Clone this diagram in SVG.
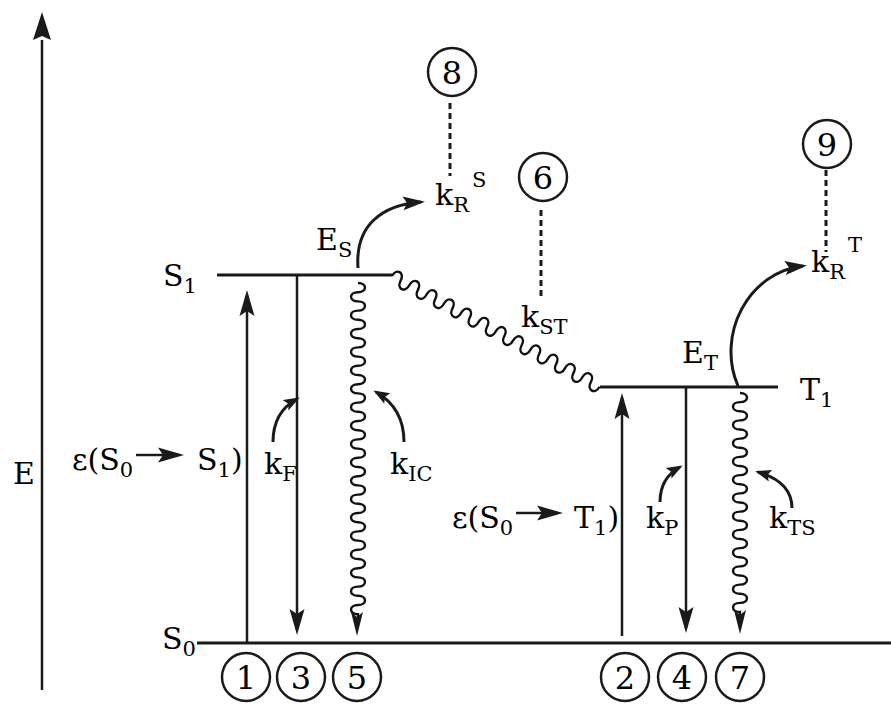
<svg xmlns="http://www.w3.org/2000/svg" xmlns:xlink="http://www.w3.org/1999/xlink" width="891" height="704" viewBox="0 0 891 704">
<style>
text{font-family:'DejaVu Serif',serif;fill:#000;}
.t{font-size:30px;}
.s{font-size:21px;}
.lvl{stroke:#1a1a1a;stroke-width:3;fill:none;}
.ln{stroke:#1a1a1a;stroke-width:2.5;fill:none;}
.wv{stroke:#111;stroke-width:2.4;fill:none;}
.cv{stroke:#1a1a1a;stroke-width:3;fill:none;}
.ds{stroke:#1a1a1a;stroke-width:3;fill:none;stroke-dasharray:6 4;}
.cir{stroke:#1a1a1a;stroke-width:2.5;fill:none;}
.hd{fill:#1a1a1a;}
.num{font-size:32px;text-anchor:middle;}
</style>
<defs>
<marker id="ah" markerUnits="userSpaceOnUse" viewBox="-22 -8 28 16" refX="0" refY="0" markerWidth="28" markerHeight="16" orient="auto" overflow="visible">
<path d="M5,0 L-21,-7.5 L-16,0 L-21,7.5 Z" class="hd"/>
</marker>
<marker id="am" markerUnits="userSpaceOnUse" viewBox="-19 -8 24 16" refX="0" refY="0" markerWidth="24" markerHeight="16" orient="auto" overflow="visible">
<path d="M4,0 L-18,-7 L-14,0 L-18,7 Z" class="hd"/>
</marker>
<marker id="as" markerUnits="userSpaceOnUse" viewBox="-14 -7 18 14" refX="0" refY="0" markerWidth="18" markerHeight="14" orient="auto" overflow="visible">
<path d="M3,0 L-13,-6 L-10,0 L-13,6 Z" class="hd"/>
</marker>
<path id="wh" d="M0,0 L-6,-24 L0,-19 L6,-24 Z" class="hd"/>
</defs>

<g id="axis">
<path d="M42,690 V40" class="ln" stroke-width="3"/>
<path d="M42,12 L33,40 L42,36 L51,40 Z" class="hd"/>
<text class="t" x="13" y="484">E</text>
</g>

<g id="level-S1">
<path d="M217,275 H392" class="lvl"/>
<text class="t" x="163" y="286">S<tspan class="s" dy="7">1</tspan></text>
</g>
<g id="level-S0">
<path d="M197,643 H891" class="lvl"/>
<text class="t" x="162" y="649">S<tspan class="s" dy="7">0</tspan></text>
</g>
<g id="level-T1">
<path d="M600,387 H778" class="lvl"/>
<text class="t" x="800" y="400">T<tspan class="s" dy="7">1</tspan></text>
</g>

<g id="node-1"><circle cx="246" cy="677" r="24" class="cir"/><text class="num" x="246" y="689">1</text></g>
<g id="node-3"><circle cx="301" cy="677" r="24" class="cir"/><text class="num" x="301" y="689">3</text></g>
<g id="node-5"><circle cx="357" cy="677" r="24" class="cir"/><text class="num" x="357" y="689">5</text></g>
<g id="node-2"><circle cx="625" cy="677" r="24" class="cir"/><text class="num" x="625" y="689">2</text></g>
<g id="node-4"><circle cx="682" cy="677" r="24" class="cir"/><text class="num" x="682" y="689">4</text></g>
<g id="node-7"><circle cx="740" cy="677" r="24" class="cir"/><text class="num" x="740" y="689">7</text></g>
<g id="node-8"><circle cx="452" cy="72" r="24" class="cir"/><text class="num" x="452" y="84">8</text></g>
<g id="node-6"><circle cx="543" cy="177" r="24" class="cir"/><text class="num" x="543" y="189">6</text></g>
<g id="node-9"><circle cx="827" cy="144" r="24" class="cir"/><text class="num" x="827" y="156">9</text></g>

<g id="labels">
<text class="t" x="72" y="470">ε(S<tspan class="s" dy="7">0</tspan></text>
<text class="t" x="197" y="470">S<tspan class="s" dy="7">1</tspan><tspan class="t" dy="-7">)</tspan></text>
<text class="t" x="452" y="528">ε(S<tspan class="s" dy="7">0</tspan></text>
<text class="t" x="574" y="528">T<tspan class="s" dy="7">1</tspan><tspan class="t" dy="-7">)</tspan></text>
<text class="t" x="264" y="474">k<tspan class="s" dy="7">F</tspan></text>
<text class="t" x="390" y="474">k<tspan class="s" dy="7">IC</tspan></text>
<text class="t" x="646" y="528">k<tspan class="s" dy="7">P</tspan></text>
<text class="t" x="769" y="528">k<tspan class="s" dy="7">TS</tspan></text>
<text class="t" x="521" y="327">k<tspan class="s" dy="7">ST</tspan></text>
<text class="t" x="435" y="205">k<tspan class="s" dy="7">R</tspan></text>
<text class="s" x="472" y="187">S</text>
<text class="t" x="811" y="272">k<tspan class="s" dy="7">R</tspan></text>
<text class="s" x="848" y="252">T</text>
<text class="t" x="316" y="250">E<tspan class="s" dy="7">S</tspan></text>
<text class="t" x="682" y="363">E<tspan class="s" dy="7">T</tspan></text>
</g>

<g id="connectors">
<path d="M247,643 V295" class="ln" marker-end="url(#ah)"/>
<path d="M297,275 V630" class="ln" marker-end="url(#ah)"/>
<path d="M622,636 V398" class="ln" marker-end="url(#ah)"/>
<path d="M686,387 V628" class="ln" marker-end="url(#ah)"/>
<path d="M136,455 H179" class="ln" stroke-width="3" marker-end="url(#ah)"/>
<path d="M516,513 H558" class="ln" stroke-width="3" marker-end="url(#ah)"/>

<path class="wv" d="M358,283 c 9.3,0 9.3,9.2 0,9.2 c -9.3,0 -9.3,9.2 0,9.2 c 9.3,0 9.3,9.2 0,9.2 c -9.3,0 -9.3,9.2 0,9.2 c 9.3,0 9.3,9.2 0,9.2 c -9.3,0 -9.3,9.2 0,9.2 c 9.3,0 9.3,9.2 0,9.2 c -9.3,0 -9.3,9.2 0,9.2 c 9.3,0 9.3,9.2 0,9.2 c -9.3,0 -9.3,9.2 0,9.2 c 9.3,0 9.3,9.2 0,9.2 c -9.3,0 -9.3,9.2 0,9.2 c 9.3,0 9.3,9.2 0,9.2 c -9.3,0 -9.3,9.2 0,9.2 c 9.3,0 9.3,9.2 0,9.2 c -9.3,0 -9.3,9.2 0,9.2 c 9.3,0 9.3,9.2 0,9.2 c -9.3,0 -9.3,9.2 0,9.2 c 9.3,0 9.3,9.2 0,9.2 c -9.3,0 -9.3,9.2 0,9.2 c 9.3,0 9.3,9.2 0,9.2 c -9.3,0 -9.3,9.2 0,9.2 c 9.3,0 9.3,9.2 0,9.2 c -9.3,0 -9.3,9.2 0,9.2 c 9.3,0 9.3,9.2 0,9.2 c -9.3,0 -9.3,9.2 0,9.2 c 9.3,0 9.3,9.2 0,9.2 c -9.3,0 -9.3,9.2 0,9.2 c 9.3,0 9.3,9.2 0,9.2 c -9.3,0 -9.3,9.2 0,9.2 c 9.3,0 9.3,9.2 0,9.2 c -9.3,0 -9.3,9.2 0,9.2 c 9.3,0 9.3,9.2 0,9.2 c -9.3,0 -9.3,9.2 0,9.2 c 9.3,0 9.3,9.2 0,9.2 c -9.3,0 -9.3,9.2 0,9.2 l 0,4"/>
<use xlink:href="#wh" href="#wh" x="357" y="636"/>

<path class="wv" d="M740,393 c 9.3,0 9.3,9.125 0,9.125 c -9.3,0 -9.3,9.125 0,9.125 c 9.3,0 9.3,9.125 0,9.125 c -9.3,0 -9.3,9.125 0,9.125 c 9.3,0 9.3,9.125 0,9.125 c -9.3,0 -9.3,9.125 0,9.125 c 9.3,0 9.3,9.125 0,9.125 c -9.3,0 -9.3,9.125 0,9.125 c 9.3,0 9.3,9.125 0,9.125 c -9.3,0 -9.3,9.125 0,9.125 c 9.3,0 9.3,9.125 0,9.125 c -9.3,0 -9.3,9.125 0,9.125 c 9.3,0 9.3,9.125 0,9.125 c -9.3,0 -9.3,9.125 0,9.125 c 9.3,0 9.3,9.125 0,9.125 c -9.3,0 -9.3,9.125 0,9.125 c 9.3,0 9.3,9.125 0,9.125 c -9.3,0 -9.3,9.125 0,9.125 c 9.3,0 9.3,9.125 0,9.125 c -9.3,0 -9.3,9.125 0,9.125 c 9.3,0 9.3,9.125 0,9.125 c -9.3,0 -9.3,9.125 0,9.125 c 9.3,0 9.3,9.125 0,9.125 c -9.3,0 -9.3,9.125 0,9.125 l 0,4"/>
<use xlink:href="#wh" href="#wh" x="740" y="634"/>

<path class="wv" transform="translate(392,276) rotate(28.1)" d="M0,0 c 0,-9.3 9.8,-9.3 9.8,0 c 0,9.3 9.8,9.3 9.8,0 c 0,-9.3 9.8,-9.3 9.8,0 c 0,9.3 9.8,9.3 9.8,0 c 0,-9.3 9.8,-9.3 9.8,0 c 0,9.3 9.8,9.3 9.8,0 c 0,-9.3 9.8,-9.3 9.8,0 c 0,9.3 9.8,9.3 9.8,0 c 0,-9.3 9.8,-9.3 9.8,0 c 0,9.3 9.8,9.3 9.8,0 c 0,-9.3 9.8,-9.3 9.8,0 c 0,9.3 9.8,9.3 9.8,0 c 0,-9.3 9.8,-9.3 9.8,0 c 0,9.3 9.8,9.3 9.8,0 c 0,-9.3 9.8,-9.3 9.8,0 c 0,9.3 9.8,9.3 9.8,0 c 0,-9.3 9.8,-9.3 9.8,0 c 0,9.3 9.8,9.3 9.8,0 c 0,-9.3 9.8,-9.3 9.8,0 c 0,9.3 9.8,9.3 9.8,0 c 0,-9.3 9.8,-9.3 9.8,0 c 0,9.3 9.8,9.3 9.8,0 c 0,-9.3 9.8,-9.3 9.8,0 c 0,9.3 9.8,9.3 9.8,0"/>

<path d="M358,268 C 355,225 382,205 421,202" class="cv" marker-end="url(#am)"/>
<path d="M738,386 C 716,335 748,272 803,266" class="cv" marker-end="url(#am)"/>

<path d="M273,442 Q273,412 297,399" class="cv" marker-end="url(#as)"/>
<path d="M404,442 Q404,408 376,392" class="cv" marker-end="url(#as)"/>
<path d="M660,502 Q660,478 680,467" class="cv" marker-end="url(#as)"/>
<path d="M792,508 Q792,482 758,472" class="cv" marker-end="url(#as)"/>

<path d="M450,103 V176" class="ds"/>
<path d="M541,210 V298" class="ds"/>
<path d="M826,170 V252" class="ds"/>
</g>
</svg>
